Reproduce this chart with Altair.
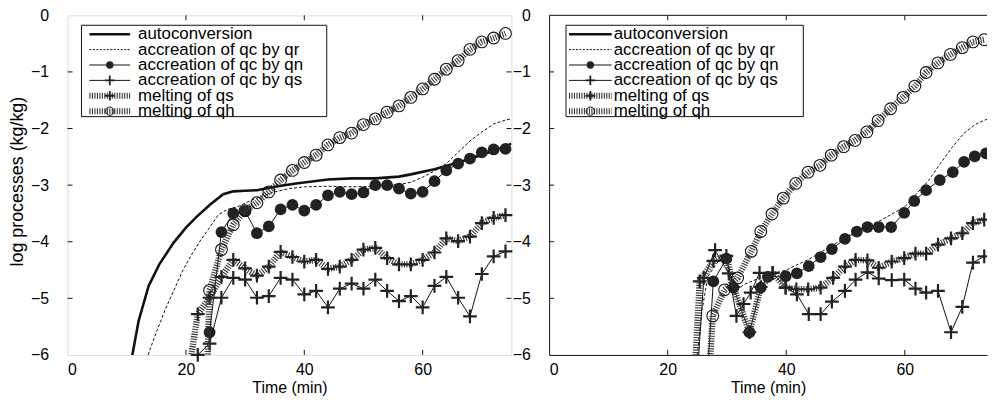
import altair as alt
import pandas as pd

FONT = "Liberation Sans"
INK = "#111111"
HATCH = "#333333"

# ---------------- data: left panel ----------------
L_auto_t = [10.6, 12.0, 13.7, 15.5, 17.9, 20.0, 21.8, 24.0, 26.3, 28.0, 30.0, 32.0, 35.0, 38.6, 44.0, 48.0, 52.0, 56.0, 58.0, 62.0, 66.0, 70.0, 73.0, 75.0]
L_auto_v = [-6.2, -5.4, -4.78, -4.40, -4.02, -3.75, -3.56, -3.35, -3.16, -3.11, -3.10, -3.09, -3.03, -2.97, -2.90, -2.88, -2.88, -2.85, -2.81, -2.72, -2.60, -2.47, -2.35, -2.27]

L_qr_t = [13.6, 15.0, 16.5, 18.0, 19.5, 21.0, 22.5, 24.0, 25.5, 27.0, 29.0, 31.0, 33.0, 35.0, 37.5, 40.0, 44.0, 48.0, 52.0, 56.0, 58.0, 60.0, 62.0, 64.0, 66.0, 68.0, 70.0, 72.0, 74.0, 75.0]
L_qr_v = [-6.0, -5.6, -5.2, -4.85, -4.5, -4.22, -3.97, -3.75, -3.52, -3.43, -3.37, -3.27, -3.19, -3.12, -3.06, -3.03, -3.02, -3.03, -3.02, -2.99, -2.95, -2.86, -2.75, -2.62, -2.42, -2.22, -2.06, -1.92, -1.85, -1.83]

L_qn_t = [24, 26, 28, 30, 32, 34, 36, 38, 40, 42, 44, 46, 48, 50, 52, 54, 56, 58, 60, 62, 64, 66, 68, 70, 72, 74]
L_qn_v = [-5.60, -3.83, -3.50, -3.46, -3.85, -3.73, -3.43, -3.35, -3.45, -3.35, -3.18, -3.12, -3.16, -3.13, -3.00, -3.00, -3.06, -3.15, -3.12, -2.93, -2.74, -2.62, -2.53, -2.42, -2.37, -2.36]

L_qs_t = [22, 24, 26, 28, 30, 32, 34, 36, 38, 40, 42, 44, 46, 48, 50, 52, 54, 56, 58, 60, 62, 64, 66, 68, 70, 72, 74]
L_qs_v = [-6.0, -5.80, -4.99, -4.64, -4.67, -4.99, -4.96, -4.64, -4.67, -4.93, -4.87, -5.16, -4.83, -4.74, -4.83, -4.67, -4.87, -5.05, -4.96, -5.16, -4.78, -4.62, -4.99, -5.32, -4.57, -4.26, -4.17]

L_mqs_t = [20, 22, 24, 26, 28, 30, 32, 34, 36, 38, 40, 42, 44, 46, 48, 50, 52, 54, 56, 58, 60, 62, 64, 66, 68, 70, 72, 74]
L_mqs_v = [-6.6, -5.28, -4.99, -4.62, -4.32, -4.47, -4.60, -4.44, -4.18, -4.27, -4.35, -4.32, -4.48, -4.44, -4.32, -4.14, -4.11, -4.29, -4.40, -4.40, -4.32, -4.19, -3.94, -3.99, -3.91, -3.67, -3.58, -3.53]

L_mqh_t = [22, 24, 26, 28, 30, 32, 34, 36, 38, 40, 42, 44, 46, 48, 50, 52, 54, 56, 58, 60, 62, 64, 66, 68, 70, 72, 74]
L_mqh_v = [-12.0, -4.86, -4.14, -3.70, -3.45, -3.31, -3.12, -2.91, -2.74, -2.60, -2.47, -2.29, -2.16, -2.08, -1.93, -1.83, -1.71, -1.60, -1.45, -1.30, -1.13, -0.95, -0.80, -0.60, -0.47, -0.40, -0.32]

# ---------------- data: right panel ----------------
R_qr_t = [25.0, 25.8, 26.8, 28.5, 29.9, 30.8, 31.6, 33.0, 36.0, 38.0, 40.0, 44.0, 48.0, 52.0, 56.0, 60.0, 62.0, 64.0, 66.0, 68.0, 70.0, 72.0, 74.0]
R_qr_v = [-6.0, -5.2, -4.61, -4.35, -4.30, -4.70, -4.85, -4.75, -4.62, -4.56, -4.50, -4.30, -4.05, -3.80, -3.62, -3.38, -3.15, -2.92, -2.62, -2.33, -2.08, -1.92, -1.83]

R_qn_t = [26.0, 27.7, 29.9, 31.1, 33.8, 35.7, 36.9, 39.9, 41.8, 43.8, 45.8, 47.7, 49.9, 51.9, 53.7, 55.6, 57.7, 59.9, 61.6, 63.6, 65.9, 68.1, 70.0, 71.8, 73.7]
R_qn_v = [-7.5, -4.70, -4.30, -4.81, -5.60, -4.81, -4.62, -4.61, -4.56, -4.43, -4.27, -4.13, -3.95, -3.82, -3.74, -3.74, -3.74, -3.49, -3.28, -3.09, -2.91, -2.77, -2.59, -2.49, -2.44]

R_qs_t = [24.6, 26.1, 28.0, 30.3, 31.6, 32.8, 34.0, 35.5, 37.7, 39.9, 41.8, 43.8, 45.8, 47.7, 49.9, 51.7, 53.7, 55.6, 57.8, 59.9, 61.8, 63.6, 65.6, 67.8, 69.7, 71.5, 73.4]
R_qs_v = [-7.0, -4.64, -4.15, -4.56, -5.31, -5.10, -4.90, -4.55, -4.55, -4.81, -4.93, -5.28, -5.28, -5.06, -4.87, -4.67, -4.54, -4.65, -4.68, -4.67, -4.83, -4.90, -4.87, -5.60, -5.15, -4.37, -4.26]

R_mqs_t = [24.0, 25.4, 27.7, 29.9, 31.1, 33.8, 35.7, 37.7, 39.9, 41.7, 43.7, 45.8, 47.9, 49.9, 51.7, 53.7, 55.6, 57.8, 59.9, 61.8, 63.6, 65.6, 67.8, 69.7, 71.5, 73.4]
R_mqs_v = [-7.5, -4.70, -4.34, -4.25, -4.80, -5.60, -4.80, -4.55, -4.81, -4.84, -4.84, -4.81, -4.64, -4.44, -4.32, -4.33, -4.46, -4.35, -4.29, -4.21, -4.21, -4.05, -3.94, -3.85, -3.67, -3.61]

R_mqh_t = [26.0, 27.6, 29.6, 31.8, 34.1, 35.7, 37.6, 39.5, 41.6, 43.7, 45.7, 47.6, 49.7, 51.6, 53.6, 55.5, 57.6, 59.7, 61.7, 63.6, 65.6, 67.7, 69.7, 71.5, 73.4]
R_mqh_v = [-8.0, -5.31, -4.85, -4.64, -4.17, -3.82, -3.51, -3.23, -2.97, -2.77, -2.65, -2.47, -2.32, -2.21, -2.06, -1.86, -1.65, -1.45, -1.25, -1.01, -0.84, -0.69, -0.57, -0.47, -0.43]

legend_labels = ["autoconversion", "accreation of qc by qr", "accreation of qc by qn",
                 "accreation of qc by qs", "melting of qs", "melting of qh"]
x_tick_values = [0, 20, 40, 60]
y_tick_values = [-6, -5, -4, -3, -2, -1, 0]
x_inner_ticks = [20, 40, 60]
y_inner_ticks = [-5, -4, -3, -2, -1]

# ---------------- layout constants ----------------
H = 342
WL, WR = 447, 441
TICK = 5
CROSS = "M-1,0L1,0M0,-1L0,1"
HATCH_DASH = [1.1, 1.4]

ys = alt.Scale(domain=[-6, 0], nice=False, zero=False)


def axes(xmax, show_ytitle, domain):
    xs = alt.Scale(domain=[0, xmax], nice=False, zero=False)
    xaxis = alt.Axis(values=x_tick_values, title="Time (min)", ticks=False, grid=False,
                     domain=domain, domainColor=INK, domainWidth=1,
                     labelFont=FONT, labelFontSize=16, labelColor="black", labelPadding=7,
                     titleFont=FONT, titleFontSize=16, titleFontWeight=400,
                     titleColor="black", titlePadding=2)
    ykw = dict(values=y_tick_values, ticks=False, grid=False, domain=domain,
               domainColor=INK, domainWidth=1, labelFont=FONT, labelFontSize=16,
               labelColor="black", labelPadding=19)
    if show_ytitle:
        yaxis = alt.Axis(title="log processes (kg/kg)", titleFont=FONT, titleFontSize=18,
                         titleFontWeight=400, titleColor="black", titleX=-50, titleY=167,
                         titleAngle=270, titleAlign="center", titleBaseline="middle", **ykw)
    else:
        yaxis = alt.Axis(title=None, **ykw)
    X = alt.X("t:Q", scale=xs, axis=xaxis)
    Y = alt.Y("v:Q", scale=ys, axis=yaxis)
    return X, Y


def series(t, v, X, Y, style, clip_pts):
    df = pd.DataFrame({"t": t, "v": v})
    base = alt.Chart(df)
    pts = base.transform_filter("datum.v >= -6")
    out = []
    if style == "auto":
        out.append(base.mark_line(clip=True, color=INK, strokeWidth=2.6).encode(x=X, y=Y))
    elif style == "qr":
        out.append(base.mark_line(clip=True, color=INK, strokeWidth=1, strokeDash=[3, 2]).encode(x=X, y=Y))
    elif style == "qn":
        out.append(base.mark_line(clip=True, color=INK, strokeWidth=1).encode(x=X, y=Y))
        out.append(pts.mark_point(clip=clip_pts, shape="circle", filled=True, color="#222222",
                                  opacity=1, size=140).encode(x=X, y=Y))
    elif style == "qs":
        out.append(base.mark_line(clip=True, color=INK, strokeWidth=1).encode(x=X, y=Y))
        out.append(pts.mark_point(clip=clip_pts, shape=CROSS, filled=False, color="#222222",
                                  opacity=1, strokeWidth=2.2, size=190).encode(x=X, y=Y))
    elif style == "mqs":
        out.append(base.mark_line(clip=True, color=HATCH, strokeWidth=6.5, strokeDash=HATCH_DASH).encode(x=X, y=Y))
        out.append(pts.mark_point(clip=clip_pts, shape=CROSS, filled=False, color="#222222",
                                  opacity=1, strokeWidth=2.2, size=190).encode(x=X, y=Y))
    elif style == "mqh":
        out.append(base.mark_line(clip=True, color=HATCH, strokeWidth=6.5, strokeDash=HATCH_DASH).encode(x=X, y=Y))
        out.append(pts.mark_point(clip=clip_pts, shape="circle", filled=False, color=INK,
                                  opacity=1, strokeWidth=1.1, size=140).encode(x=X, y=Y))
    return out


def ticks(X, Y, width, right_side):
    tx = alt.Chart(pd.DataFrame({"t": x_inner_ticks}))
    ty = alt.Chart(pd.DataFrame({"v": y_inner_ticks}))
    rk = dict(color=INK, strokeWidth=1)
    out = [
        tx.mark_rule(**rk).encode(x=X, y=alt.value(H), y2=alt.value(H - TICK)),
        tx.mark_rule(**rk).encode(x=X, y=alt.value(0), y2=alt.value(TICK)),
        ty.mark_rule(**rk).encode(y=Y, x=alt.value(0), x2=alt.value(TICK)),
    ]
    if right_side:
        out.append(ty.mark_rule(**rk).encode(y=Y, x=alt.value(width - TICK), x2=alt.value(width)))
    return out


def legend(box_x0, box_x1, line_x0, line_x1, text_x):
    one = alt.Chart(pd.DataFrame({"k": [0]}))
    rows = [19, 34.5, 50, 65.5, 81, 96.5]
    mx = (line_x0 + line_x1) / 2
    out = [one.mark_rect(fill="white", stroke=INK, strokeWidth=1).encode(
        x=alt.value(box_x0), x2=alt.value(box_x1), y=alt.value(10), y2=alt.value(102))]
    styles = ["auto", "qr", "qn", "qs", "mqs", "mqh"]
    for label, yy, st in zip(legend_labels, rows, styles):
        lk = dict(color=INK, strokeWidth=1)
        if st == "auto":
            lk = dict(color=INK, strokeWidth=2.6)
        elif st == "qr":
            lk = dict(color=INK, strokeWidth=1, strokeDash=[2, 1.5])
        elif st in ("mqs", "mqh"):
            lk = dict(color=HATCH, strokeWidth=6, strokeDash=HATCH_DASH)
        out.append(one.mark_rule(**lk).encode(x=alt.value(line_x0), x2=alt.value(line_x1), y=alt.value(yy)))
        if st == "qn":
            out.append(one.mark_point(shape="circle", filled=True, color="#222222", opacity=1, size=55).encode(
                x=alt.value(mx), y=alt.value(yy)))
        elif st in ("qs", "mqs"):
            out.append(one.mark_point(shape=CROSS, filled=False, color="#222222", opacity=1, strokeWidth=1.8, size=95).encode(
                x=alt.value(mx), y=alt.value(yy)))
        elif st == "mqh":
            out.append(one.mark_point(shape="circle", filled=False, color=INK, opacity=1, strokeWidth=1, size=70).encode(
                x=alt.value(mx), y=alt.value(yy)))
        out.append(one.mark_text(text=label, align="left", baseline="middle", font=FONT,
                                 fontSize=17, color="black").encode(x=alt.value(text_x), y=alt.value(yy)))
    return out


# ---------------- left panel ----------------
XL, YL = axes(75, True, False)
left_layers = []
for t, v, st in [(L_auto_t, L_auto_v, "auto"), (L_qr_t, L_qr_v, "qr"), (L_qn_t, L_qn_v, "qn"),
                 (L_qs_t, L_qs_v, "qs"), (L_mqs_t, L_mqs_v, "mqs"), (L_mqh_t, L_mqh_v, "mqh")]:
    left_layers += series(t, v, XL, YL, st, False)
left_layers += ticks(XL, YL, WL, True)
left_layers += legend(14, 261, 22, 63, 71)
left = alt.layer(*left_layers).properties(width=WL, height=H)

# ---------------- right panel ----------------
XR, YR = axes(WR / 5.97, False, True)
right_layers = []
for t, v, st in [(R_qr_t, R_qr_v, "qr"), (R_qn_t, R_qn_v, "qn"),
                 (R_qs_t, R_qs_v, "qs"), (R_mqs_t, R_mqs_v, "mqs"), (R_mqh_t, R_mqh_v, "mqh")]:
    right_layers += series(t, v, XR, YR, st, True)
right_layers += ticks(XR, YR, WR, False)
right_layers.append(alt.Chart(pd.DataFrame({"k": [0]})).mark_rule(color=INK, strokeWidth=1).encode(
    x=alt.value(0), x2=alt.value(WR), y=alt.value(0)))
right_layers += legend(17, 256, 20, 63, 65)
right = alt.layer(*right_layers).properties(width=WR, height=H,
                                            view=alt.ViewBackground(strokeOpacity=0))

chart = alt.hconcat(left, right, spacing=38, bounds="flush",
                    padding={"left": 0, "top": -3, "right": 0, "bottom": 0}
                    ).configure_view(stroke=INK, strokeWidth=1).configure(background="white")

chart.save("out.html", embed_options={"renderer": "svg", "actions": False})
